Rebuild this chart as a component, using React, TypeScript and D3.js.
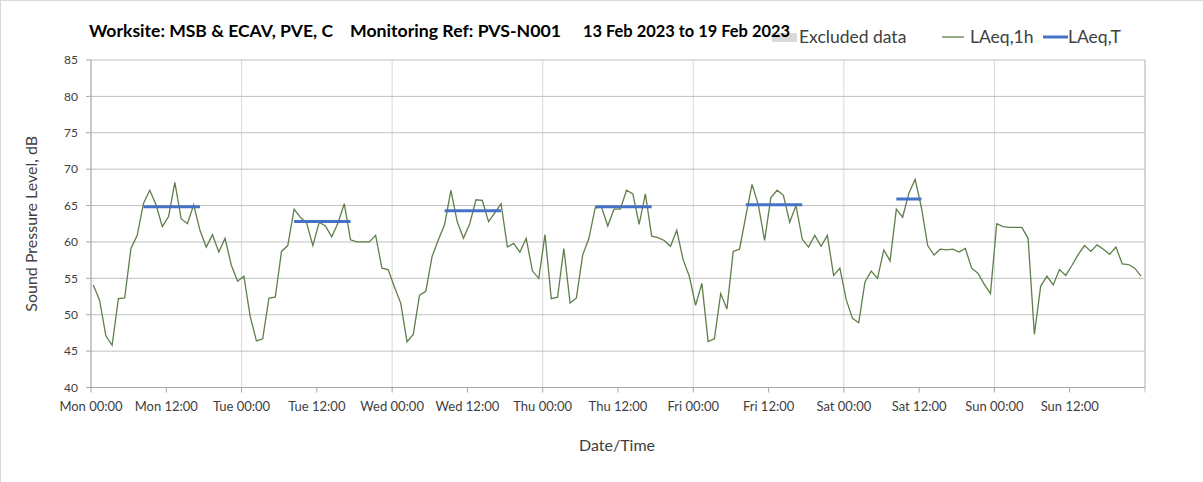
import React from "react";
import * as d3 from "d3";

const W = 1203;
const H = 482;

const titleParts = ["Worksite: MSB & ECAV, PVE, C", "Monitoring Ref: PVS-N001", "13 Feb 2023 to 19 Feb 2023"];
const yTicks = [40, 45, 50, 55, 60, 65, 70, 75, 80, 85];
const xTickLabels = [
  "Mon 00:00", "Mon 12:00", "Tue 00:00", "Tue 12:00", "Wed 00:00", "Wed 12:00", "Thu 00:00",
  "Thu 12:00", "Fri 00:00", "Fri 12:00", "Sat 00:00", "Sat 12:00", "Sun 00:00", "Sun 12:00",
];

// Hourly LAeq,1h values, Mon 13 Feb 00:00 .. Sun 19 Feb 23:00
const laeq1h = [
  // Mon
  54.1, 52.0, 47.1, 45.8, 52.2, 52.3, 59.1, 60.9, 65.3, 67.1, 65.1, 62.1, 63.5, 68.2, 63.2, 62.5, 65.1, 61.6, 59.3, 61.0, 58.6, 60.5, 56.8, 54.6,
  // Tue
  55.3, 49.8, 46.4, 46.7, 52.3, 52.4, 58.7, 59.5, 64.5, 63.4, 62.6, 59.5, 62.7, 62.2, 60.7, 62.6, 65.25, 60.3, 60.0, 60.0, 60.0, 60.9, 56.4, 56.2,
  // Wed
  53.8, 51.6, 46.3, 47.3, 52.7, 53.2, 58.0, 60.3, 62.4, 67.1, 62.8, 60.5, 62.5, 65.8, 65.7, 62.8, 64.0, 65.25, 59.3, 59.8, 58.6, 60.5, 56.0, 55.0,
  // Thu
  61.0, 52.2, 52.4, 59.1, 51.6, 52.3, 58.2, 60.5, 64.7, 64.8, 62.2, 64.5, 64.5, 67.1, 66.6, 62.4, 66.6, 60.8, 60.6, 60.2, 59.4, 61.6, 57.6, 55.3,
  // Fri
  51.3, 54.3, 46.3, 46.7, 52.9, 50.8, 58.7, 59.0, 63.5, 67.9, 65.1, 60.2, 66.1, 67.1, 66.4, 62.7, 65.0, 60.4, 59.3, 60.9, 59.4, 60.9, 55.4, 56.4,
  // Sat
  52.1, 49.5, 48.9, 54.5, 56.0, 55.0, 58.9, 57.4, 64.5, 63.4, 66.7, 68.6, 64.7, 59.5, 58.2, 59.0, 58.9, 59.0, 58.6, 59.1, 56.4, 55.7, 54.2, 52.9,
  // Sun
  62.5, 62.1, 62.0, 62.0, 62.0, 60.5, 47.3, 53.9, 55.3, 54.1, 56.2, 55.4, 56.8, 58.3, 59.5, 58.7, 59.6, 59.0, 58.3, 59.3, 57.0, 56.9, 56.4, 55.3,
];

// LAeq,T daytime periods (hour index from Mon 00:00)
const periodStart = [8, 32, 56, 80, 104, 128];
const periodEnd = [17, 41, 65, 89, 113, 132];
const laeqT = [64.85, 62.8, 64.3, 64.85, 65.1, 65.9];

const t0 = new Date(2023, 1, 13, 0, 0);
const t1 = new Date(2023, 1, 20, 0, 0);
const hourDate = (i: number) => new Date(t0.getTime() + (i * 60 + 22) * 60000);

const FONT = "Lato, 'Open Sans', sans-serif";
const TXT = "#404040";

export default function App() {
  const left = 91, right = 1145, top = 60, bottom = 387.5;
  const x = d3.scaleTime().domain([t0, t1]).range([left, right]);
  const y = d3.scaleLinear().domain([40, 85]).range([bottom, top]);
  const xTicks = d3.range(0, 14).map((k) => new Date(t0.getTime() + k * 12 * 3600000));
  const midnights = d3.range(0, 8).map((k) => new Date(t0.getTime() + k * 24 * 3600000));

  const line = d3
    .line<number>()
    .x((_, i) => x(hourDate(i)))
    .y((v) => y(v))(laeq1h) as string;

  return (
    <div style={{ position: "absolute", left: 0, top: 0 }}>
      <svg width={W} height={H} style={{ display: "block", background: "#fff" }} fontFamily={FONT}>
        <rect x={0.5} y={0.5} width={W + 10} height={H + 10} fill="#fff" stroke="#d9d9d9" />
        {/* vertical grid at midnights */}
        {midnights.map((d, i) => (
          <line key={"vg" + i} x1={x(d)} x2={x(d)} y1={top} y2={bottom} stroke="#d9d9d9" strokeWidth={1} />
        ))}
        {/* horizontal grid */}
        {yTicks.map((v) => (
          <line key={"hg" + v} x1={left} x2={right} y1={y(v)} y2={y(v)} stroke="#c0c0c0" strokeWidth={1} />
        ))}
        {/* axes */}
        <line x1={left} x2={left} y1={top} y2={bottom} stroke="#a6a6a6" />
        <line x1={right} x2={right} y1={top} y2={bottom + 5} stroke="#c0c0c0" />
        <line x1={left} x2={right} y1={bottom} y2={bottom} stroke="#a6a6a6" />
        {yTicks.map((v) => (
          <g key={"yt" + v}>
            <line x1={left - 5} x2={left} y1={y(v)} y2={y(v)} stroke="#a6a6a6" />
            <text x={left - 13} y={y(v)} dy="0.35em" textAnchor="end" fontSize={12} fill={TXT}>
              {v}
            </text>
          </g>
        ))}
        {xTicks.map((d, i) => (
          <g key={"xt" + i}>
            <line x1={x(d)} x2={x(d)} y1={bottom} y2={bottom + 5} stroke="#a6a6a6" />
            <text x={x(d)} y={bottom + 23} textAnchor="middle" fontSize={13} fill={TXT}>
              {xTickLabels[i]}
            </text>
          </g>
        ))}
        {/* data */}
        <path d={line} fill="none" stroke="#5f7f4a" strokeWidth={1.3} />
        {laeqT.map((v, i) => (
          <line
            key={"lt" + i}
            x1={x(hourDate(periodStart[i]))}
            x2={x(hourDate(periodEnd[i]))}
            y1={y(v)}
            y2={y(v)}
            stroke="#4472c4"
            strokeWidth={3}
          />
        ))}
        {/* axis titles */}
        <text x={617} y={451} textAnchor="middle" fontSize={16} fill={TXT}>
          Date/Time
        </text>
        <text
          transform={`translate(37,${(top + bottom) / 2}) rotate(-90)`}
          textAnchor="middle"
          fontSize={16}
          fill={TXT}
        >
          Sound Pressure Level, dB
        </text>
        {/* legend */}
        <rect x={772} y={33} width={25} height={9} fill="#d9d9d9" />
        <text x={799} y={43} fontSize={17.5} fill={TXT}>
          Excluded data
        </text>
        <line x1={942} x2={964} y1={37} y2={37} stroke="#5f7f4a" strokeWidth={1.3} />
        <text x={970} y={43} fontSize={17.5} fill={TXT}>
          LAeq,1h
        </text>
        <line x1={1043} x2={1068} y1={37} y2={37} stroke="#4472c4" strokeWidth={3} />
        <text x={1068} y={43} fontSize={17.5} fill={TXT}>
          LAeq,T
        </text>
        {/* title */}
        <text x={89} y={37} fontSize={17} fontWeight="bold" fill="#000" textLength={244} lengthAdjust="spacingAndGlyphs">
          {titleParts[0]}
        </text>
        <text x={350} y={37} fontSize={17} fontWeight="bold" fill="#000" textLength={211} lengthAdjust="spacingAndGlyphs">
          {titleParts[1]}
        </text>
        <text x={583} y={37} fontSize={17} fontWeight="bold" fill="#000" textLength={207} lengthAdjust="spacingAndGlyphs">
          {titleParts[2]}
        </text>
      </svg>
    </div>
  );
}
